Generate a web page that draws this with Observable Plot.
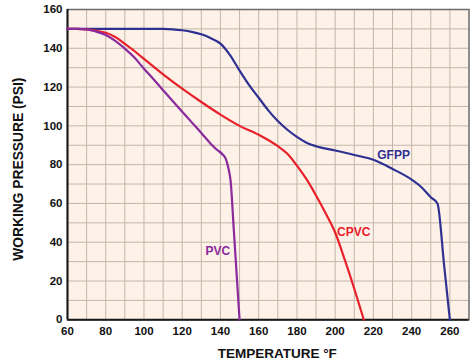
<!DOCTYPE html>
<html>
<head>
<meta charset="utf-8">
<script src="https://cdn.jsdelivr.net/npm/d3@7"></script>
<script src="https://cdn.jsdelivr.net/npm/@observablehq/plot@0.6"></script>
<style>
  html, body { margin: 0; padding: 0; background: #ffffff; }
</style>
</head>
<body>
<div id="chart"></div>
<script>
// Tick labels
const xTicks = [60, 80, 100, 120, 140, 160, 180, 200, 220, 240, 260];
const yTicks = [0, 20, 40, 60, 80, 100, 120, 140, 160];
const xGrid = [70, 80, 90, 100, 110, 120, 130, 140, 150, 160, 170, 180, 190, 200, 210, 220, 230, 240, 250, 260];
const yGrid = [10, 20, 30, 40, 50, 60, 70, 80, 90, 100, 110, 120, 130, 140, 150];

// Series
const gfppTemp = [60, 70, 80, 90, 100, 110, 115, 120, 125, 130, 135, 140, 145, 150, 155, 160, 165, 170, 175, 180, 185, 190, 200, 210, 220, 230, 240, 245, 250, 253.5, 257, 260];
const gfppPsi  = [150, 150, 150, 150, 150, 150, 149.8, 149.3, 148.5, 147.2, 145.2, 142.4, 136.5, 128.5, 121, 114.5, 108, 102.5, 98, 94.3, 91.3, 89.5, 87.3, 85, 82.5, 77.8, 72.3, 68.5, 63.2, 60, 28, 0];

const cpvcTemp = [60, 65, 70, 75, 80, 85, 90, 95, 100, 110, 120, 130, 140, 150, 160, 170, 175, 180, 185, 190, 195, 200, 205, 210, 215];
const cpvcPsi  = [150, 150, 149.8, 149, 148, 145.8, 142.3, 138.6, 134.5, 126.6, 119.2, 112.3, 105.8, 100, 95.4, 89.5, 85.6, 79.5, 72.5, 64.1, 55, 45, 31, 16, 0];

const pvcTemp = [60, 65, 70, 75, 80, 85, 90, 95, 100, 105, 110, 115, 120, 125, 130, 135, 138, 141, 142.8, 144.2, 145.3, 147, 150];
const pvcPsi  = [150, 150, 149.8, 148.6, 146.8, 143.8, 139.8, 135.2, 129.5, 124, 118.4, 112.8, 107.3, 101.8, 96.3, 90.7, 87.8, 85.4, 83, 78, 71.8, 46, 0];

// Series labels
const seriesNames  = ["GFPP", "CPVC", "PVC"];
const seriesColors = ["#2e3192", "#e8202a", "#8a2a9c"];
const labelTemp = [222, 201, 132.2];
const labelPsi  = [85, 45, 35.2];

const toRows = (name, t, p) => t.map((d, i) => ({series: name, temp: d, psi: p[i]}));
const rows = [
  ...toRows("GFPP", gfppTemp, gfppPsi),
  ...toRows("CPVC", cpvcTemp, cpvcPsi),
  ...toRows("PVC", pvcTemp, pvcPsi)
];
const labels = seriesNames.map((s, i) => ({series: s, temp: labelTemp[i], psi: labelPsi[i]}));

const chart = Plot.plot({
  width: 474,
  height: 362,
  marginLeft: 67,
  marginRight: 5.5,
  marginTop: 9,
  marginBottom: 42.7,
  style: {fontFamily: "'Liberation Sans', Arial, sans-serif", fontSize: "11.5px", fontWeight: "bold", color: "#111", background: "#ffffff"},
  x: {domain: [60, 270]},
  y: {domain: [0, 160]},
  color: {domain: seriesNames, range: seriesColors},
  marks: [
    Plot.frame({fill: "#fdf1e8", stroke: null}),
    Plot.gridX(xGrid, {stroke: "#c4b6a9", strokeOpacity: 1, strokeWidth: 1}),
    Plot.gridY(yGrid, {stroke: "#c4b6a9", strokeOpacity: 1, strokeWidth: 1}),
    Plot.frame({stroke: "#6a6a6a", strokeWidth: 1.5}),
    Plot.ruleX([60], {stroke: "#1a1a1a", strokeWidth: 2}),
    Plot.ruleY([0], {stroke: "#1a1a1a", strokeWidth: 2}),
    Plot.axisX({ticks: xTicks, tickSize: 0, tickPadding: 7, label: null, fontSize: 11.5}),
    Plot.axisY({ticks: yTicks, tickSize: 0, tickPadding: 5, label: null, fontSize: 11.5}),
    Plot.line(rows, {x: "temp", y: "psi", z: "series", stroke: "series", strokeWidth: 2.2, curve: "monotone-x"}),
    Plot.text(labels, {x: "temp", y: "psi", text: "series", fill: "series", textAnchor: "start", fontSize: 12, fontWeight: "bold"}),
    Plot.text(["TEMPERATURE °F"], {frameAnchor: "bottom", text: d => d, textAnchor: "middle", lineAnchor: "middle", dx: 9, dy: 34, fontSize: 13.5, fontWeight: "bold", fill: "#111"}),
    Plot.text(["WORKING PRESSURE (PSI)"], {frameAnchor: "left", text: d => d, textAnchor: "middle", lineAnchor: "middle", rotate: -90, dx: -49, dy: 4.5, fontSize: 13.8, fontWeight: "bold", fill: "#111"})
  ]
});
document.getElementById("chart").appendChild(chart);
</script>
</body>
</html>
